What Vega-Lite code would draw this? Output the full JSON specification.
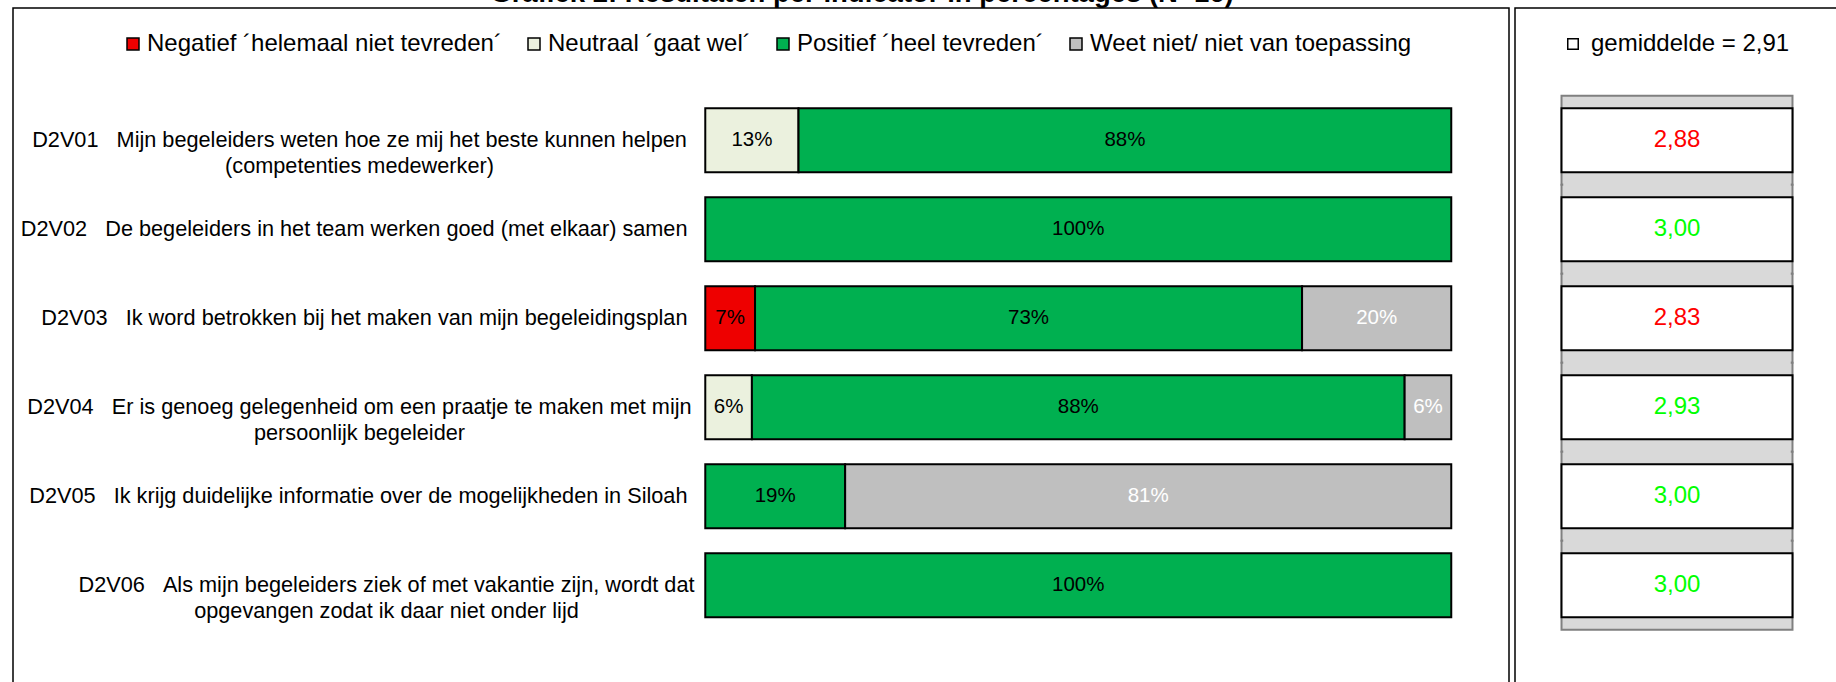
{
  "$schema": "https://vega.github.io/schema/vega-lite/v6.json",
  "background": "white",
  "padding": {"left": 12, "top": -21, "right": 0, "bottom": 0},
  "config": {
    "locale": {"number": {"decimal": ",", "thousands": ".", "grouping": [3], "currency": ["€", ""]}},
    "font": "Liberation Sans",
    "view": {"stroke": "black", "strokeWidth": 1.5, "fill": "white"}
  },
  "title": {
    "text": "Grafiek 2: Resultaten per indicator in percentages (N=16)",
    "fontSize": 27.5, "fontWeight": "bold", "font": "Liberation Sans", "color": "black",
    "anchor": "start", "dx": 478, "offset": 0
  },
  "spacing": 4,
  "hconcat": [
    {
      "width": 1496,
      "height": 687,
      "data": {"values": [
        {"item": "D2V01\u00a0\u00a0\u00a0Mijn begeleiders weten hoe ze mij het beste kunnen helpen|(competenties medewerker)", "category": "Neutraal ´gaat wel´", "value": 0.125},
        {"item": "D2V01\u00a0\u00a0\u00a0Mijn begeleiders weten hoe ze mij het beste kunnen helpen|(competenties medewerker)", "category": "Positief ´heel tevreden´", "value": 0.875},
        {"item": "D2V02\u00a0\u00a0\u00a0De begeleiders in het team werken goed (met elkaar) samen", "category": "Positief ´heel tevreden´", "value": 1.0},
        {"item": "D2V03\u00a0\u00a0\u00a0Ik word betrokken bij het maken van mijn begeleidingsplan", "category": "Negatief ´helemaal niet tevreden´", "value": 0.0667},
        {"item": "D2V03\u00a0\u00a0\u00a0Ik word betrokken bij het maken van mijn begeleidingsplan", "category": "Positief ´heel tevreden´", "value": 0.7333},
        {"item": "D2V03\u00a0\u00a0\u00a0Ik word betrokken bij het maken van mijn begeleidingsplan", "category": "Weet niet/ niet van toepassing", "value": 0.2},
        {"item": "D2V04\u00a0\u00a0\u00a0Er is genoeg gelegenheid om een praatje te maken met mijn|persoonlijk begeleider", "category": "Neutraal ´gaat wel´", "value": 0.0625},
        {"item": "D2V04\u00a0\u00a0\u00a0Er is genoeg gelegenheid om een praatje te maken met mijn|persoonlijk begeleider", "category": "Positief ´heel tevreden´", "value": 0.875},
        {"item": "D2V04\u00a0\u00a0\u00a0Er is genoeg gelegenheid om een praatje te maken met mijn|persoonlijk begeleider", "category": "Weet niet/ niet van toepassing", "value": 0.0625},
        {"item": "D2V05\u00a0\u00a0\u00a0Ik krijg duidelijke informatie over de mogelijkheden in Siloah", "category": "Positief ´heel tevreden´", "value": 0.1875},
        {"item": "D2V05\u00a0\u00a0\u00a0Ik krijg duidelijke informatie over de mogelijkheden in Siloah", "category": "Weet niet/ niet van toepassing", "value": 0.8125},
        {"item": "D2V06\u00a0\u00a0\u00a0Als mijn begeleiders ziek of met vakantie zijn, wordt dat|opgevangen zodat ik daar niet onder lijd", "category": "Positief ´heel tevreden´", "value": 1.0}
      ]},
      "encoding": {
        "y": {
          "field": "item", "type": "nominal", "sort": null,
          "scale": {"paddingInner": 0.281, "paddingOuter": 1, "align": 0.5627},
          "axis": {
            "orient": "left", "title": null, "ticks": false, "tickSize": 0, "domain": false, "grid": false,
            "labelAlign": {"condition": {"test": "indexof(datum.value, '|') >= 0", "value": "center"}, "value": "right"},
            "labelPadding": {"condition": [
              {"test": "indexof(datum.value, 'D2V06') === 0", "value": -373},
              {"test": "indexof(datum.value, '|') >= 0", "value": -346}
            ], "value": -674},
            "labelBaseline": "middle",
            "labelFontSize": 21.7, "labelLineHeight": 26, "labelLimit": 0, "labelColor": "black",
            "labelFont": "Liberation Sans", "labelOverlap": false, "labelBound": false,
            "labelExpr": "split(datum.value, '|')"
          }
        }
      },
      "layer": [
        {
          "mark": {"type": "bar", "stroke": "black", "strokeWidth": 2},
          "encoding": {
            "x": {"field": "value", "type": "quantitative", "stack": "zero",
                  "scale": {"domain": [-0.928, 1.0774], "nice": false, "zero": false}, "axis": null},
            "color": {
              "field": "category", "type": "nominal",
              "scale": {
                "domain": ["Negatief ´helemaal niet tevreden´", "Neutraal ´gaat wel´", "Positief ´heel tevreden´", "Weet niet/ niet van toepassing"],
                "range": ["#ee0000", "#ebf1de", "#00b050", "#bfbfbf"]
              },
              "legend": {
                "orient": "none", "legendX": 108, "legendY": 24, "direction": "horizontal", "title": null,
                "symbolType": "square", "symbolSize": 144, "symbolStrokeColor": "black", "symbolStrokeWidth": 1.5,
                "labelFontSize": 24, "labelFont": "Liberation Sans", "labelColor": "black", "labelOffset": 2,
                "columnPadding": 20, "labelLimit": 0, "padding": 0
              }
            },
            "order": {"field": "category"}
          }
        },
        {
          "mark": {"type": "text", "fontSize": 20.5, "font": "Liberation Sans", "baseline": "middle"},
          "encoding": {
            "x": {"field": "value", "type": "quantitative", "stack": "zero", "bandPosition": 0.5},
            "text": {"field": "value", "type": "quantitative", "format": ".0%"},
            "detail": {"field": "category"},
            "order": {"field": "category"},
            "color": {
              "condition": {"test": "datum.category === 'Weet niet/ niet van toepassing'", "value": "white"},
              "value": "black"
            }
          }
        }
      ]
    },
    {
      "width": 340,
      "height": 687,
      "data": {"values": [
        {"item": "D2V01", "mean": 2.88},
        {"item": "D2V02", "mean": 3.0},
        {"item": "D2V03", "mean": 2.83},
        {"item": "D2V04", "mean": 2.93},
        {"item": "D2V05", "mean": 3.0},
        {"item": "D2V06", "mean": 3.0}
      ]},
      "encoding": {
        "y": {"field": "item", "type": "nominal", "sort": null,
              "scale": {"paddingInner": 0.281, "paddingOuter": 1, "align": 0.5627}, "axis": null},
        "x": {"datum": "gemiddelde", "type": "nominal",
              "scale": {"paddingInner": 0, "paddingOuter": 0.236, "align": 0.4266}, "axis": null}
      },
      "layer": [
        {"mark": {"type": "bar", "color": "#d9d9d9", "stroke": "#808080", "strokeWidth": 2, "height": {"band": 1.3908}}},
        {
          "transform": [{"filter": "datum.item !== 'D2V06'"}],
          "mark": {"type": "bar", "color": "#d9d9d9", "strokeWidth": 0, "height": {"band": 0.12}, "width": {"band": 0.985}, "yOffset": 44.5}
        },
        {
          "mark": {"type": "bar", "stroke": "black", "strokeWidth": 2},
          "encoding": {
            "fill": {
              "datum": "gemiddelde = 2,91", "type": "nominal",
              "scale": {"range": ["white"]},
              "legend": {
                "orient": "none", "legendX": 1548, "legendY": 24, "title": null,
                "symbolType": "square", "symbolSize": 110, "symbolStrokeColor": "black", "symbolStrokeWidth": 1.5,
                "labelFontSize": 24, "labelFont": "Liberation Sans", "labelColor": "black", "labelOffset": 6,
                "labelLimit": 0, "padding": 0
              }
            }
          }
        },
        {
          "mark": {"type": "text", "fontSize": 24, "font": "Liberation Sans", "baseline": "middle"},
          "encoding": {
            "text": {"field": "mean", "type": "quantitative", "format": ".2f"},
            "color": {"condition": {"test": "datum.mean < 2.91", "value": "#ff0000"}, "value": "#00ff00"}
          }
        }
      ]
    }
  ]
}
